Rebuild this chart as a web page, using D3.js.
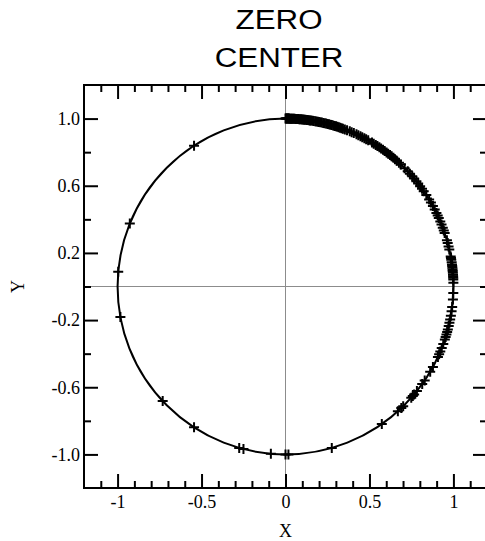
<!DOCTYPE html>
<html>
<head>
<meta charset="utf-8">
<script src="https://cdn.jsdelivr.net/npm/d3@7"></script>
<style>
  html, body { margin: 0; padding: 0; background: #fff; }
  svg { display: block; }
</style>
</head>
<body>
<svg id="chart" width="485" height="541"></svg>
<script>
// Title lines
const titleLines = ["ZERO", "CENTER"];
const xLabel = "X";
const yLabel = "Y";

// Axis extents and ticks
const xDomain = [-1.2, 1.2];
const yDomain = [-1.2, 1.2];
const xMajorTicks = [-1, -0.5, 0, 0.5, 1];
const xTickLabels = ["-1", "-0.5", "0", "0.5", "1"];
const xMinorTicks = [-1.1, -0.9, -0.8, -0.7, -0.6, -0.4, -0.3, -0.2, -0.1,
                     0.1, 0.2, 0.3, 0.4, 0.6, 0.7, 0.8, 0.9, 1.1];
const yMajorTicks = [1.0, 0.6, 0.2, -0.2, -0.6, -1.0];
const yTickLabels = ["1.0", "0.6", "0.2", "-0.2", "-0.6", "-1.0"];
const yMinorTicks = [0.8, 0.4, 0.0, -0.4, -0.8];

// Unit circle radius
const circleRadius = 1;

// Angular positions (degrees, counter-clockwise from +X) of the samples on the circle
const pointAnglesDeg = [
  123, 158, 175, 190.5, 223, 237, 254, 255.5, 265, 270, 271, 286,
  305, 312, 313.6, 314.5, 318.5, 319.3, 320, 321.5, 324.5, 326, 329.5, 331.4,
  335.2, 336.2, 337.2, 338.5, 340, 341.6, 342.5, 343.4, 344.3, 345.2, 346.4,
  347.5, 348.7, 350, 351.5, 353, 355.6, 357.8,
  1.3, 2.4, 3, 3.5, 4, 4.7, 5.3, 5.8, 6.4, 7, 7.5, 8.3, 9.2, 9.8,
  10.3, 12.7, 13.8, 15, 16, 18.6, 19.5, 20.5, 21.7, 22.8, 24.1, 25, 26,
  27.3, 28.6, 30, 31.2, 33, 34.6, 35.6, 36.7, 37.8, 38.8, 40, 41, 42.2,
  43.3, 44.8, 46.6, 47.5, 48.5, 49.3, 50, 50.8, 51.5, 52.3, 53, 53.8,
  54.5, 55.3, 56, 56.8, 57.5, 58.3, 59, 60.5, 61.3, 62, 62.8, 63.5,
  64.3, 65, 66, 66.8, 67.5, 68.5, 69.3, 70, 70.5, 71, 71.5, 72, 72.5,
  73, 73.5, 74, 74.5, 75, 75.5, 76, 76.5, 77, 77.5, 78, 78.5, 78.9,
  79.4, 79.8, 80.3, 80.7, 81.2, 81.6, 82, 82.4, 82.8, 83.2, 83.6, 83.9,
  84.3, 84.6, 85, 85.3, 85.7, 86, 86.3, 86.6, 86.9, 87.2, 87.5, 87.8,
  88.1, 88.3, 88.6, 88.8, 89, 89.2, 89.4, 89.6, 89.8, 90
];

const svg = d3.select("#chart");
const plot = { left: 84, right: 487, top: 85, bottom: 488 };

const x = d3.scaleLinear().domain(xDomain).range([plot.left, plot.right]);
const y = d3.scaleLinear().domain(yDomain).range([plot.bottom, plot.top]);

const serif = "'Liberation Serif', 'Times New Roman', serif";
const sans = "'Liberation Sans', Arial, sans-serif";

// Title
svg.append("g")
  .selectAll("text")
  .data(titleLines)
  .join("text")
  .attr("transform", (d, i) => `translate(279, ${29 + i * 37.5}) scale(1.16, 1)`)
  .attr("text-anchor", "middle")
  .attr("font-family", sans)
  .attr("font-size", 27)
  .attr("fill", "#000")
  .text(d => d);

// Zero reference lines
svg.append("line")
  .attr("x1", x(0)).attr("x2", x(0))
  .attr("y1", plot.top).attr("y2", plot.bottom)
  .attr("stroke", "#8c8c8c").attr("stroke-width", 1);
svg.append("line")
  .attr("x1", plot.left).attr("x2", plot.right)
  .attr("y1", y(0)).attr("y2", y(0))
  .attr("stroke", "#8c8c8c").attr("stroke-width", 1);

// Circle
svg.append("ellipse")
  .attr("cx", x(0)).attr("cy", y(0))
  .attr("rx", x(circleRadius) - x(0))
  .attr("ry", y(0) - y(circleRadius))
  .attr("fill", "none")
  .attr("stroke", "#000")
  .attr("stroke-width", 2);

// Plus markers on the circle
const toRad = d => d * Math.PI / 180;
const arm = 5;
svg.append("g")
  .selectAll("path")
  .data(pointAnglesDeg)
  .join("path")
  .attr("transform", d => `translate(${x(Math.cos(toRad(d)))}, ${y(Math.sin(toRad(d)))})`)
  .attr("d", `M${-arm},0H${arm}M0,${-arm}V${arm}`)
  .attr("stroke", "#000")
  .attr("stroke-width", 2)
  .attr("fill", "none");

// Axes with inward ticks
function styleAxis(g) {
  g.select(".domain").remove();
  g.selectAll(".tick line").attr("stroke", "#000").attr("stroke-width", 2);
  g.selectAll("text").attr("font-family", serif).attr("font-size", 18).attr("fill", "#000");
}

const majorLen = 14, minorLen = 7;

// bottom
svg.append("g").attr("transform", `translate(0,${plot.bottom})`)
  .call(d3.axisBottom(x).tickValues(xMajorTicks).tickSize(-majorLen).tickPadding(7)
        .tickFormat((d, i) => xTickLabels[i]))
  .call(styleAxis);
svg.append("g").attr("transform", `translate(0,${plot.bottom})`)
  .call(d3.axisBottom(x).tickValues(xMinorTicks).tickSize(-minorLen).tickFormat(""))
  .call(styleAxis);
// top
svg.append("g").attr("transform", `translate(0,${plot.top})`)
  .call(d3.axisTop(x).tickValues(xMajorTicks).tickSize(-majorLen).tickFormat(""))
  .call(styleAxis);
svg.append("g").attr("transform", `translate(0,${plot.top})`)
  .call(d3.axisTop(x).tickValues(xMinorTicks).tickSize(-minorLen).tickFormat(""))
  .call(styleAxis);
// left
svg.append("g").attr("transform", `translate(${plot.left},0)`)
  .call(d3.axisLeft(y).tickValues(yMajorTicks).tickSize(-majorLen).tickPadding(4)
        .tickFormat((d, i) => yTickLabels[i]))
  .call(styleAxis);
svg.append("g").attr("transform", `translate(${plot.left},0)`)
  .call(d3.axisLeft(y).tickValues(yMinorTicks).tickSize(-minorLen).tickFormat(""))
  .call(styleAxis);
// right
svg.append("g").attr("transform", `translate(${plot.right},0)`)
  .call(d3.axisRight(y).tickValues(yMajorTicks).tickSize(-majorLen).tickFormat(""))
  .call(styleAxis);
svg.append("g").attr("transform", `translate(${plot.right},0)`)
  .call(d3.axisRight(y).tickValues(yMinorTicks).tickSize(-minorLen).tickFormat(""))
  .call(styleAxis);

// Frame
svg.append("rect")
  .attr("x", plot.left).attr("y", plot.top)
  .attr("width", plot.right - plot.left).attr("height", plot.bottom - plot.top)
  .attr("fill", "none").attr("stroke", "#000").attr("stroke-width", 2);

// Axis titles
svg.append("text")
  .attr("x", x(0)).attr("y", 537)
  .attr("text-anchor", "middle")
  .attr("font-family", serif).attr("font-size", 18)
  .text(xLabel);
svg.append("text")
  .attr("transform", `translate(24, ${y(0)}) rotate(-90)`)
  .attr("text-anchor", "middle")
  .attr("font-family", serif).attr("font-size", 18)
  .text(yLabel);
</script>
</body>
</html>
